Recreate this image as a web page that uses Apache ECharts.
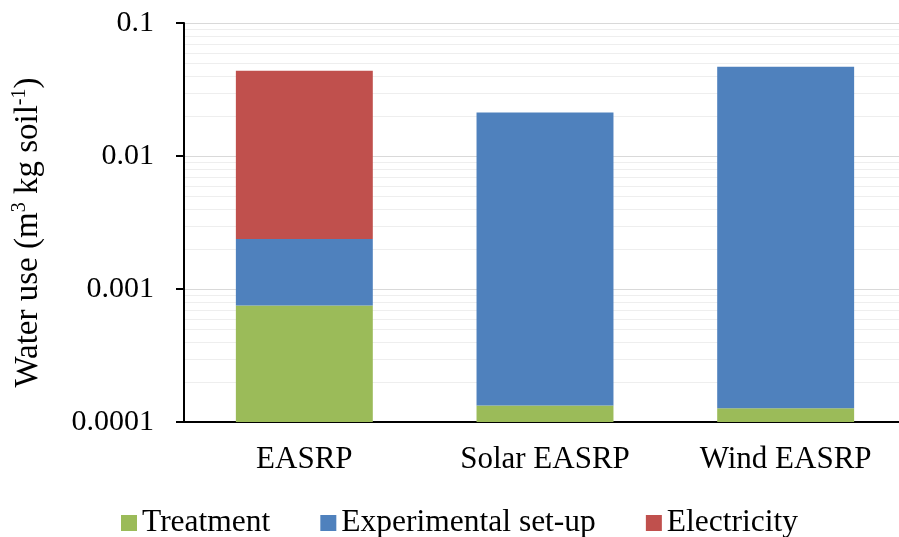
<!DOCTYPE html>
<html>
<head>
<meta charset="utf-8">
<script src="https://cdn.jsdelivr.net/npm/echarts@6/dist/echarts.min.js"></script>
<style>
  html, body { margin: 0; padding: 0; background: #ffffff; overflow: hidden; }
  body { width: 899px; height: 537px; }
  /* plot area continues a few pixels past the right edge of the page */
  #chart { width: 906px; height: 537px; }
</style>
</head>
<body>
<div id="chart"></div>
<script>
// Water use per kg of soil, stacked by contribution (log scale)
const categories = ['EASRP', 'Solar EASRP', 'Wind EASRP'];
const treatment = [0.00075, 0.000133, 0.000127];
const experimentalSetup = [0.00163, 0.0211, 0.0468];
const electricity = [0.0414, 0, 0];
const yTickLabels = ['0.0001', '0.001', '0.01', '0.1'];
const minorGridValues = [
  0.0002, 0.0003, 0.0004, 0.0005, 0.0006, 0.0007, 0.0008, 0.0009,
  0.002, 0.003, 0.004, 0.005, 0.006, 0.007, 0.008, 0.009,
  0.02, 0.03, 0.04, 0.05, 0.06, 0.07, 0.08, 0.09
];

const AXIS_MIN = 0.0001;
const AXIS_MAX = 0.1;
const FONT = '"Liberation Serif", "Times New Roman", serif';

const seriesDefs = [
  { name: 'Treatment', values: treatment, color: '#9BBB59' },
  { name: 'Experimental set-up', values: experimentalSetup, color: '#4F81BD' },
  { name: 'Electricity', values: electricity, color: '#C0504D' }
];

// Build [category, lower, upper, own value] segments for each stacked layer
const cumulative = categories.map(() => 0);
const stackedData = seriesDefs.map(def => {
  return def.values.map((v, i) => {
    const lower = cumulative[i] === 0 ? AXIS_MIN : cumulative[i];
    cumulative[i] += v;
    return [i, lower, cumulative[i], v];
  });
});

function renderSegment(params, api) {
  const v = api.value(3);
  if (!v) return null;
  const bottom = api.coord([api.value(0), api.value(1)]);
  const top = api.coord([api.value(0), api.value(2)]);
  const band = api.size([1, 0])[0];
  const w = band * 0.569;
  return {
    type: 'rect',
    shape: { x: bottom[0] - w / 2, y: top[1], width: w, height: bottom[1] - top[1] },
    style: { fill: api.visual('color') }
  };
}

function renderMinorGrid(params, api) {
  const cs = params.coordSys;
  const p = api.coord([0, api.value(0)]);
  const y = Math.round(p[1]) + 0.5;
  return {
    type: 'line',
    shape: { x1: cs.x, y1: y, x2: cs.x + cs.width, y2: y },
    style: { stroke: '#eeeeee', lineWidth: 1 },
    silent: true
  };
}

const chart = echarts.init(document.getElementById('chart'), null, { renderer: 'canvas' });

const series = [
  {
    type: 'custom',
    name: 'minor-grid',
    renderItem: renderMinorGrid,
    data: minorGridValues.map(v => [v]),
    encode: { y: 0 },
    z: 0,
    silent: true
  }
].concat(seriesDefs.map((def, k) => ({
  type: 'custom',
  name: def.name,
  renderItem: renderSegment,
  data: stackedData[k],
  encode: { x: 0, y: [1, 2] },
  itemStyle: { color: def.color },
  z: 5
})));

chart.setOption({
  animation: false,
  backgroundColor: '#ffffff',
  grid: { left: 184, top: 23, bottom: 115, right: 0, containLabel: false },
  legend: {
    data: seriesDefs.map(d => d.name),
    left: 121,
    top: 507,
    padding: 0,
    icon: 'rect',
    itemWidth: 16,
    itemHeight: 16,
    itemGap: 50,
    textStyle: { fontFamily: FONT, fontSize: 31.5, color: '#000000' }
  },
  xAxis: {
    type: 'category',
    data: categories,
    axisLine: { lineStyle: { color: '#000000', width: 2 } },
    axisTick: { show: false },
    axisLabel: { fontFamily: FONT, fontSize: 31, color: '#000000', margin: 22 },
    splitLine: { show: false }
  },
  yAxis: {
    type: 'log',
    logBase: 10,
    min: AXIS_MIN,
    max: AXIS_MAX,
    name: '{t|Water use (m}{s|3}{t| kg soil}{s|-1}{t|)}',
    nameLocation: 'middle',
    nameRotate: 90,
    nameGap: 138,
    nameTextStyle: {
      padding: [0, 20, 0, 0],
      rich: {
        t: { fontFamily: FONT, fontSize: 33, color: '#000000', lineHeight: 36 },
        s: { fontFamily: FONT, fontSize: 20, color: '#000000', lineHeight: 21, verticalAlign: 'top' }
      }
    },
    axisLine: { show: true, lineStyle: { color: '#000000', width: 2 } },
    axisTick: { show: true, inside: false, length: 8, lineStyle: { color: '#000000', width: 2 } },
    axisLabel: {
      fontFamily: FONT, fontSize: 30, color: '#000000', margin: 30,
      formatter: function (value) {
        const idx = Math.round(Math.log10(value) - Math.log10(AXIS_MIN));
        return yTickLabels[idx] !== undefined ? yTickLabels[idx] : '';
      }
    },
    splitLine: { show: true, lineStyle: { color: '#d9d9d9', width: 1 } }
  },
  series: series
});
</script>
</body>
</html>
